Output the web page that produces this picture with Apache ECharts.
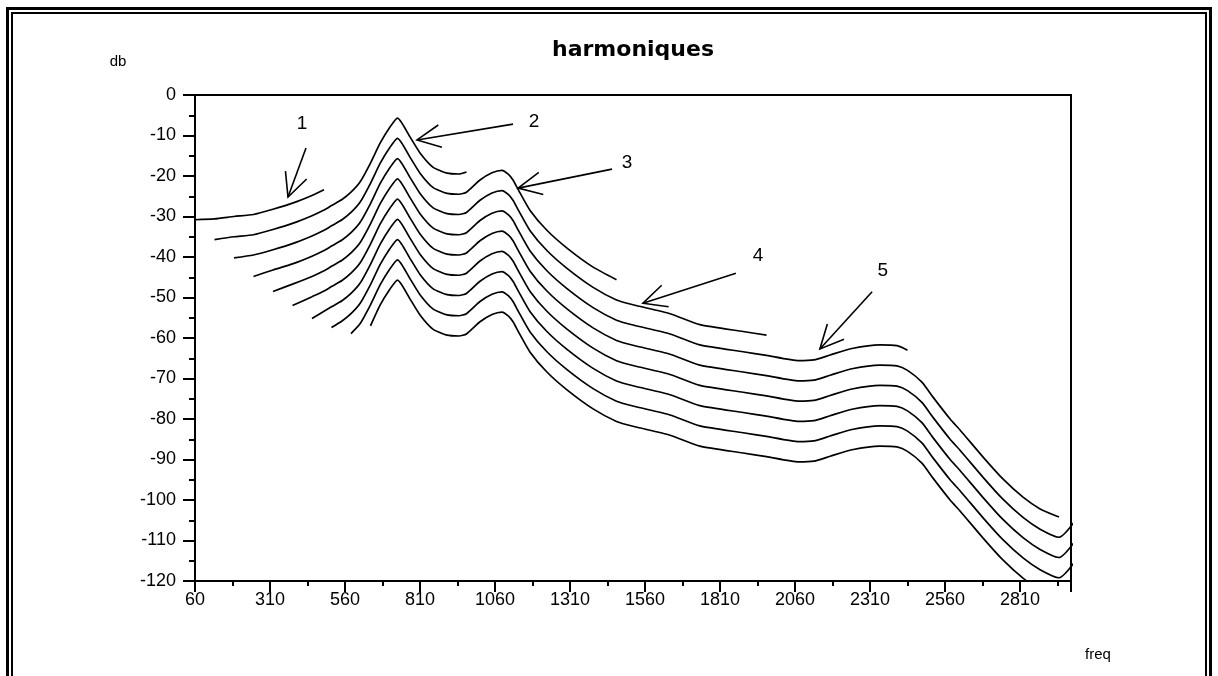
<!DOCTYPE html>
<html>
<head>
<meta charset="utf-8">
<title>harmoniques</title>
<script src="https://cdn.jsdelivr.net/npm/echarts@6/dist/echarts.min.js"></script>
<style>
html, body { margin: 0; padding: 0; background: #fff; }
#container { width: 1218px; height: 676px; }
</style>
</head>
<body>
<div id="container"></div>
<script>
var F0 = 60; // first frequency of the axis, ticks every 250 from here
var FONT = '"Liberation Sans", Arial, sans-serif';

// frequency grid (Hz) shared by all curves
var freqs = [60, 125, 190, 255, 320, 385, 450, 490, 515, 550, 580, 610, 645, 677, 710, 735,
    777, 810, 853, 900, 940, 965, 1010, 1050, 1083, 1105, 1120, 1137, 1177, 1233, 1300, 1387,
    1465, 1520, 1643, 1743, 1887, 1965, 2073, 2123, 2177, 2250, 2343, 2400, 2435, 2483, 2520,
    2577, 2610, 2687, 2753, 2820, 2877, 2940, 3000];
// index in freqs where each curve begins
var startIndex = [0, 1, 2, 3, 4, 5, 6, 8, 10, 12];

// db values, one list per curve
var curve1 = [-30.8, -30.6, -30.0, -29.5, -28.2, -26.7, -24.8, -23.4];
var curve2 = [-35.7, -35.0, -34.5, -33.2, -31.7, -29.8, -28.4, -27.3, -25.8, -24.0, -21.5,
    -16.8, -11.9, -7.9, -5.7, -10.4, -14.3, -17.8, -19.3, -19.5, -19.0];
var curve3 = [-40.2, -39.5, -38.2, -36.7, -34.8, -33.4, -32.3, -30.8, -29.0, -26.5, -21.8,
    -16.9, -12.9, -10.7, -15.4, -19.3, -22.8, -24.3, -24.5, -24.0, -21.0, -19.2, -18.6, -19.6,
    -21.0, -23.3, -28.5, -33.4, -37.8, -42.5, -45.6];
var curve4 = [-44.8, -43.2, -41.7, -39.8, -38.4, -37.3, -35.8, -34.0, -31.5, -26.8, -21.9,
    -17.9, -15.7, -20.4, -24.3, -27.8, -29.3, -29.5, -29.0, -26.0, -24.2, -23.6, -24.6, -26.0,
    -28.3, -33.5, -38.4, -42.8, -47.5, -50.6, -51.8, -54.0, -56.7, -58.4, -59.3];
var curve5 = [-48.5, -46.7, -44.8, -43.4, -42.3, -40.8, -39.0, -36.5, -31.8, -26.9, -22.9,
    -20.7, -25.4, -29.3, -32.8, -34.3, -34.5, -34.0, -31.0, -29.2, -28.6, -29.6, -31.0, -33.3,
    -38.5, -43.4, -47.8, -52.5, -55.6, -56.8, -59.0, -61.7, -63.4, -64.3, -65.6, -65.4, -64.2,
    -62.6, -61.7, -61.9, -63.0];
var curve6 = [-52.0, -49.8, -48.4, -47.3, -45.8, -44.0, -41.5, -36.8, -31.9, -27.9, -25.7,
    -30.4, -34.3, -37.8, -39.3, -39.5, -39.0, -36.0, -34.2, -33.6, -34.6, -36.0, -38.3, -43.5,
    -48.4, -52.8, -57.5, -60.6, -61.8, -64.0, -66.7, -68.4, -69.3, -70.6, -70.4, -69.2, -67.6,
    -66.7, -66.9, -68.0, -70.9, -74.6, -80.0, -82.7, -89.4, -94.8, -99.3, -102.2, -104.2];
var curve7 = [-55.2, -53.4, -52.3, -50.8, -49.0, -46.5, -41.8, -36.9, -32.9, -30.7, -35.4,
    -39.3, -42.8, -44.3, -44.5, -44.0, -41.0, -39.2, -38.6, -39.6, -41.0, -43.3, -48.5, -53.4,
    -57.8, -62.5, -65.6, -66.8, -69.0, -71.7, -73.4, -74.3, -75.6, -75.4, -74.2, -72.6, -71.7,
    -71.9, -73.0, -75.9, -79.6, -85.0, -87.7, -94.4, -99.8, -104.3, -107.2, -109.2, -104.5];
var curve8 = [-57.4, -55.8, -54.0, -51.5, -46.8, -41.9, -37.9, -35.7, -40.4, -44.3, -47.8,
    -49.3, -49.5, -49.0, -46.0, -44.2, -43.6, -44.6, -46.0, -48.3, -53.5, -58.4, -62.8, -67.5,
    -70.6, -71.8, -74.0, -76.7, -78.4, -79.3, -80.6, -80.4, -79.2, -77.6, -76.7, -76.9, -78.0,
    -80.9, -84.6, -90.0, -92.7, -99.4, -104.8, -109.3, -112.2, -114.2, -109.5];
var curve9 = [-58.9, -56.5, -51.8, -46.9, -42.9, -40.7, -45.4, -49.3, -52.8, -54.3, -54.5,
    -54.0, -51.0, -49.2, -48.6, -49.6, -51.0, -53.3, -58.5, -63.4, -67.8, -72.5, -75.6, -76.8,
    -79.0, -81.7, -83.4, -84.3, -85.6, -85.4, -84.2, -82.6, -81.7, -81.9, -83.0, -85.9, -89.6,
    -95.0, -97.7, -104.4, -109.8, -114.3, -117.2, -119.2, -114.5];
var curve10 = [-57.0, -51.9, -47.9, -45.7, -50.4, -54.3, -57.8, -59.3, -59.5, -59.0, -56.0,
    -54.2, -53.6, -54.6, -56.0, -58.3, -63.5, -68.4, -72.8, -77.5, -80.6, -81.8, -84.0, -86.7,
    -88.4, -89.3, -90.6, -90.4, -89.2, -87.6, -86.7, -86.9, -88.0, -90.9, -94.6, -100.0, -102.7,
    -109.4, -114.8, -119.3, -122.2, -124.2, -119.5];

// numbered arrows: tip, tail, label position
var arrowLabels = ['1', '2', '3', '4', '5'];
var arrowTipFreq = [370, 800, 1137, 1553, 2143];
var arrowTipDb = [-25.2, -11.1, -23.0, -51.4, -62.7];
var arrowTailFreq = [430, 1120, 1450, 1863, 2317];
var arrowTailDb = [-13.1, -7.2, -18.3, -44.0, -48.6];
var arrowLabelFreq = [417, 1190, 1500, 1937, 2353];
var arrowLabelDb = [-7.2, -6.7, -16.8, -39.8, -43.5];

var curves = [curve1, curve2, curve3, curve4, curve5, curve6, curve7, curve8, curve9, curve10];

var dom = document.getElementById('container');
var myChart = echarts.init(dom, null, { renderer: 'canvas' });

var series = curves.map(function (c, k) {
    return {
        name: String(k + 1),
        type: 'line',
        data: c.map(function (v, i) { return [freqs[startIndex[k] + i] - F0, v]; }),
        showSymbol: false,
        smooth: 0.2,
        clip: k === 9, // the last one runs under the bottom of the frame
        lineStyle: { color: '#000', width: 1.7 },
        silent: true
    };
});

var arrowData = arrowLabels.map(function (t, i) {
    return [arrowTipFreq[i] - F0, arrowTipDb[i], arrowTailFreq[i] - F0, arrowTailDb[i],
        arrowLabelFreq[i] - F0, arrowLabelDb[i]];
});

series.push({
    name: 'arrows',
    type: 'custom',
    data: arrowData,
    silent: true,
    renderItem: function (params, api) {
        var tip = api.coord([api.value(0), api.value(1)]);
        var tail = api.coord([api.value(2), api.value(3)]);
        var lab = api.coord([api.value(4), api.value(5)]);
        var ang = Math.atan2(tail[1] - tip[1], tail[0] - tip[0]);
        var len = 26, spread = 0.45;
        var b1 = [tip[0] + len * Math.cos(ang - spread), tip[1] + len * Math.sin(ang - spread)];
        var b2 = [tip[0] + len * Math.cos(ang + spread), tip[1] + len * Math.sin(ang + spread)];
        var st = { stroke: '#000', lineWidth: 1.6, fill: null };
        return {
            type: 'group',
            children: [
                { type: 'line', shape: { x1: tip[0], y1: tip[1], x2: tail[0], y2: tail[1] }, style: st },
                { type: 'polyline', shape: { points: [b1, tip, b2] }, style: st },
                {
                    type: 'text', x: lab[0], y: lab[1],
                    style: {
                        text: arrowLabels[params.dataIndex], fill: '#000',
                        font: '19px ' + FONT, align: 'center', verticalAlign: 'middle'
                    }
                }
            ]
        };
    }
});

var option = {
    animation: false,
    backgroundColor: '#fff',
    grid: {
        left: 195, right: 147, top: 95, bottom: 95,
        show: true, borderColor: '#000', borderWidth: 2
    },
    xAxis: {
        type: 'value',
        min: 0,
        max: 2920,
        interval: 250,
        axisLine: { onZero: false, lineStyle: { color: '#000', width: 2 } },
        axisTick: { length: 11, lineStyle: { color: '#000', width: 2 } },
        minorTick: { show: true, splitNumber: 2, length: 5, lineStyle: { color: '#000', width: 2 } },
        splitLine: { show: false },
        axisLabel: {
            color: '#000', fontSize: 18, fontFamily: FONT, margin: 10,
            showMaxLabel: false,
            formatter: function (v) { return String(v + F0); }
        }
    },
    yAxis: {
        type: 'value',
        min: -120,
        max: 0,
        interval: 10,
        axisLine: { onZero: false, lineStyle: { color: '#000', width: 2 } },
        axisTick: { length: 12, lineStyle: { color: '#000', width: 2 } },
        minorTick: { show: true, splitNumber: 2, length: 6, lineStyle: { color: '#000', width: 2 } },
        splitLine: { show: false },
        axisLabel: { color: '#000', fontSize: 18, fontFamily: FONT, margin: 19 }
    },
    graphic: [
        { type: 'rect', silent: true, shape: { x: 7.5, y: 8.5, width: 1203, height: 720 },
          style: { fill: null, stroke: '#000', lineWidth: 3 } },
        { type: 'rect', silent: true, shape: { x: 12, y: 13, width: 1194, height: 720 },
          style: { fill: null, stroke: '#000', lineWidth: 2 } },
        { type: 'text', x: 633, y: 50, silent: true,
          style: { text: 'harmoniques', font: 'bold 22px "DejaVu Sans", sans-serif', fill: '#000', align: 'center', verticalAlign: 'middle' } },
        { type: 'text', x: 118, y: 62, silent: true,
          style: { text: 'db', font: '15px ' + FONT, fill: '#000', align: 'center', verticalAlign: 'middle' } },
        { type: 'text', x: 1098, y: 655, silent: true,
          style: { text: 'freq', font: '15px ' + FONT, fill: '#000', align: 'center', verticalAlign: 'middle' } }
    ],
    series: series
};

myChart.setOption(option);
window.addEventListener('resize', myChart.resize);
</script>
</body>
</html>
